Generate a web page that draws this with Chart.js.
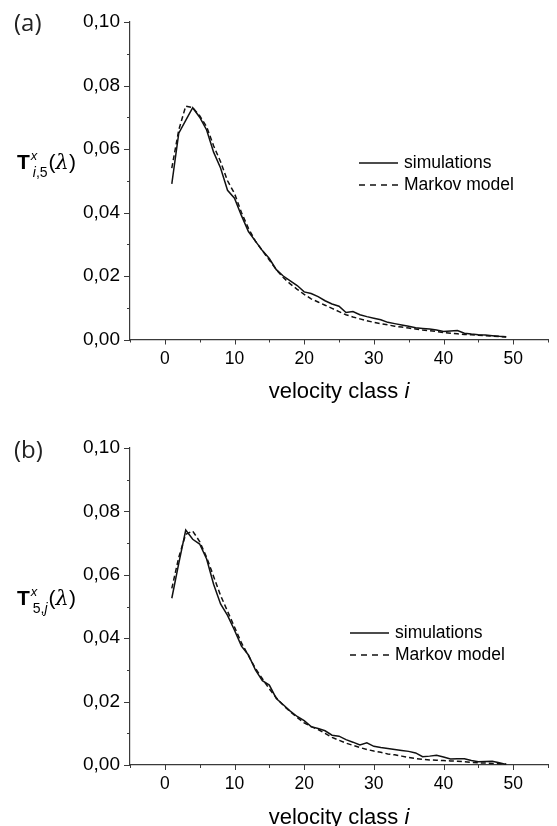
<!DOCTYPE html>
<html>
<head>
  <meta charset="utf-8" />
  <script src="https://cdn.jsdelivr.net/npm/chart.js@4.4.0/dist/chart.umd.min.js"></script>
  <style>
    body{margin:0;background:#fff;width:557px;height:826px;overflow:hidden;position:relative;}
    .panel{position:absolute;left:0;width:557px;height:413px;}
    #panelA{top:0;}
    #panelB{top:413px;}
  </style>
</head>
<body>
<div class="panel" id="panelA"><canvas id="chartA" width="557" height="413"></canvas></div>
<div class="panel" id="panelB"><canvas id="chartB" width="557" height="413"></canvas></div>

<script>
// velocity classes 1..49
const velClass = [1,2,3,4,5,6,7,8,9,10,11,12,13,14,15,16,17,18,19,20,21,22,23,24,25,
  26,27,28,29,30,31,32,33,34,35,36,37,38,39,40,41,42,43,44,45,46,47,48,49];

// (a) T^x_{i,5}
const simA = [0.049,0.065,0.069,0.073,0.0700,0.066,0.059,0.054,0.047,0.0445,
  0.039,0.034,0.031,0.028,0.0255,0.022,0.020,0.0185,0.017,0.015,
  0.0145,0.0135,0.0122,0.0112,0.0105,0.0085,0.0088,0.0078,0.0072,0.0067,
  0.0062,0.0054,0.0050,0.0046,0.0042,0.0037,0.0035,0.0033,0.0030,0.0025,
  0.0027,0.0028,0.0020,0.0017,0.0015,0.0014,0.0012,0.0010,0.0009];
const markovA = [0.054,0.066,0.0735,0.0730,0.0705,0.067,0.061,0.056,0.050,0.046,
  0.040,0.035,0.031,0.028,0.025,0.022,0.0195,0.0175,0.0158,0.0142,
  0.0128,0.0118,0.0108,0.0098,0.0088,0.0078,0.0071,0.0065,0.0059,0.0054,
  0.0050,0.0046,0.0042,0.0039,0.0036,0.0033,0.0030,0.0028,0.0025,0.0022,
  0.0020,0.0018,0.0016,0.0015,0.0013,0.0012,0.0011,0.0009,0.0008];

// (b) T^x_{5,j}
const simB = [0.0526,0.0636,0.0741,0.0712,0.0697,0.0650,0.0570,0.0508,0.0472,0.0425,
  0.0375,0.0347,0.0300,0.0266,0.0252,0.0210,0.0190,0.0170,0.0153,0.0140,
  0.0121,0.0115,0.0108,0.0094,0.0091,0.0080,0.0072,0.0063,0.0070,0.0059,
  0.0055,0.0052,0.0049,0.0046,0.0043,0.0038,0.0026,0.0028,0.0031,0.0025,
  0.0019,0.0020,0.0020,0.0014,0.0010,0.0011,0.0012,0.0007,0.0002];
const markovB = [0.0557,0.0655,0.0728,0.0738,0.0705,0.0655,0.0595,0.0535,0.0485,0.0435,
  0.0385,0.0345,0.0305,0.0272,0.0240,0.0212,0.0188,0.0168,0.0150,0.0133,
  0.0121,0.0112,0.0100,0.0087,0.0078,0.0069,0.0062,0.0055,0.0049,0.0044,
  0.0040,0.0035,0.0032,0.0028,0.0024,0.0020,0.0018,0.0016,0.0015,0.0014,
  0.0013,0.0012,0.0010,0.0008,0.0007,0.0006,0.0005,0.0004,0.0003];

const xTickMajor = [0,10,20,30,40,50];
const legendNames = ['simulations','Markov model'];

const AXIS = '#3a3a3a';
const FONT = '"Liberation Sans", Arial, sans-serif';

const pts = arr => arr.map((v,k)=>({x:velClass[k], y:v}));

// draws ticks (major/minor), y label, x title, legend, panel letter
const decor = {
  id:'decor',
  afterDraw(chart, args, o){
    const ctx = chart.ctx, xs = chart.scales.x, ys = chart.scales.y;
    const a = chart.chartArea;
    ctx.save();
    ctx.strokeStyle = AXIS; ctx.lineWidth = 1;
    xs.ticks.forEach(t=>{
      const px = Math.round(xs.getPixelForValue(t.value))+0.5;
      const len = xTickMajor.includes(t.value) ? 5 : 3;
      ctx.beginPath(); ctx.moveTo(px,a.bottom); ctx.lineTo(px,a.bottom+len); ctx.stroke();
    });
    ys.ticks.forEach(t=>{
      const py = Math.round(ys.getPixelForValue(t.value))+0.5;
      const len = Math.round(t.value*100)%2===0 ? 6 : 3;
      ctx.beginPath(); ctx.moveTo(a.left,py); ctx.lineTo(a.left-len,py); ctx.stroke();
    });

    // panel letter
    ctx.fillStyle = '#222';
    ctx.font = '24px "Open Sans", sans-serif';
    ctx.textBaseline = 'middle'; ctx.textAlign = 'left';
    ctx.fillText(o.letter, 14, o.letterY);

    // y label  T^x_{sub}(λ)
    ctx.fillStyle = '#000';
    ctx.textBaseline = 'alphabetic';
    let x = 17, by = o.yLabelY;
    ctx.font = 'bold 21px ' + FONT;
    ctx.fillText('T', x, by);
    x += ctx.measureText('T').width + 1;
    ctx.font = 'italic 13px ' + FONT;
    ctx.fillText('x', x, by-9);
    let sx = x + 2;
    o.sub.forEach(s=>{
      ctx.font = (s.it ? 'italic ' : '') + '14px ' + FONT;
      ctx.fillText(s.t, sx, by+8);
      sx += ctx.measureText(s.t).width;
    });
    x = sx + 1;
    ctx.font = '21px ' + FONT;
    ctx.fillText('(', x, by); x += ctx.measureText('(').width;
    ctx.font = 'italic 21px "DejaVu Serif", serif';
    ctx.fillText('\u03bb', x, by); x += ctx.measureText('\u03bb').width;
    ctx.font = '21px ' + FONT;
    ctx.fillText(')', x, by);

    // x title
    ctx.font = '22px ' + FONT;
    const t1 = 'velocity class ';
    const w1 = ctx.measureText(t1).width;
    ctx.font = 'italic 22px ' + FONT;
    const w2 = ctx.measureText('i').width;
    const cx = (a.left + a.right)/2 - (w1+w2)/2;
    ctx.font = '22px ' + FONT;
    ctx.fillText(t1, cx, o.xTitleY);
    ctx.font = 'italic 22px ' + FONT;
    ctx.fillText('i', cx+w1, o.xTitleY);

    // legend
    ctx.font = '17.5px ' + FONT;
    ctx.textBaseline = 'middle';
    ctx.strokeStyle = '#111'; ctx.lineWidth = 1.5;
    legendNames.forEach((name,k)=>{
      const ly = o.legY + k*22;
      ctx.setLineDash(k ? [6,5] : []);
      ctx.beginPath(); ctx.moveTo(o.legX, ly); ctx.lineTo(o.legX+39, ly); ctx.stroke();
      ctx.fillText(name, o.legX+45, ly);
    });
    ctx.restore();
  }
};

function makeChart(id, sim, markov, o){
  return new Chart(document.getElementById(id), {
    type:'line',
    data:{ datasets:[
      { label:legendNames[0], data:pts(sim), borderColor:'#111', borderWidth:1.5, pointRadius:0, tension:0 },
      { label:legendNames[1], data:pts(markov), borderColor:'#111', borderWidth:1.5, borderDash:[5,3], pointRadius:0, tension:0 }
    ]},
    options:{
      responsive:false, animation:false, devicePixelRatio:1,
      layout:{ padding:{ top:o.top, right:0, bottom:0, left:0 } },
      plugins:{ legend:{display:false}, tooltip:{enabled:false}, decor:o },
      scales:{
        x:{ type:'linear', min:-5, max:55,
            grid:{ display:false, drawTicks:false },
            border:{ display:true, color:AXIS, width:1.2 },
            ticks:{ stepSize:5, autoSkip:false, maxRotation:0, padding:9, color:'#000',
                    font:{ family:FONT, size:17.5 },
                    callback:v => xTickMajor.includes(v) ? String(v) : '' },
            afterFit:s => { s.height = o.xh; } },
        y:{ min:0, max:0.1,
            grid:{ display:false, drawTicks:false },
            border:{ display:true, color:AXIS, width:1.2 },
            ticks:{ stepSize:0.01, autoSkip:false, padding:10, color:'#000',
                    font:{ family:FONT, size:19 },
                    callback:v => { const k = Math.round(v*100); return k%2===0 ? (k/100).toFixed(2).replace('.',',') : ''; } },
            afterFit:s => { s.width = 130; } }
      }
    },
    plugins:[decor]
  });
}

makeChart('chartA', simA, markovA, { top:22, xh:73.5, letter:'(a)', letterY:24, yLabelY:169,
  sub:[{t:'i',it:true},{t:',5',it:false}], xTitleY:398, legX:359, legY:163 });
makeChart('chartB', simB, markovB, { top:35, xh:61, letter:'(b)', letterY:38, yLabelY:192,
  sub:[{t:'5,',it:false},{t:'j',it:true}], xTitleY:410.5, legX:350, legY:220 });
</script>
</body>
</html>
